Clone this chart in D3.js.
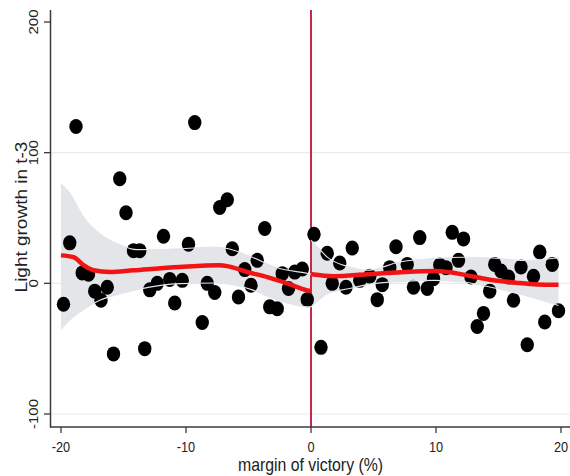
<!DOCTYPE html>
<html><head><meta charset="utf-8">
<script src="https://cdn.jsdelivr.net/npm/d3@7"></script>
<style>html,body{margin:0;padding:0;background:#fff;}svg{display:block;font-family:"Liberation Sans",Arial,Helvetica,sans-serif;}</style>
</head><body>
<svg id="c" width="570" height="476"></svg>
<script>
// scatter points: margin of victory (%) and light growth in t-3
const pointX = [-18.8,-15.3,-14.8,-11.8,-19.3,-14.2,-13.7,-18.3,-17.8,-17.3,-16.3,-16.8,-19.8,-12.9,-12.3,-11.3,-10.9,-15.8,-13.3,
  -9.3,-7.3,-6.7,-3.7,-9.8,-6.3,-4.3,-5.3,-10.3,-8.3,-7.7,-5.8,-4.8,-8.7,-3.3,-2.7,-2.3,-1.8,-1.3,-0.7,-0.3,
  0.24,0.8,1.3,2.3,3.3,1.7,2.8,3.9,4.7,5.7,5.3,6.8,6.3,7.7,8.7,8.2,9.3,9.8,10.3,10.8,11.3,12.2,11.8,12.8,
  13.8,13.3,14.3,14.7,15.2,15.8,16.2,16.8,17.8,17.3,18.3,19.3,18.7,19.8];
const pointY = [120,80,54,36,31,25,25,8,7,-6,-3,-13,-16,-5,0,3,-15,-54,-50,
  123,58,64,42,30,26.5,17.6,10.5,2.3,0,-7,-10.5,-1.5,-30,-18,-19.4,7.4,-4,8.6,11,-12.5,
  37.5,-49,23,15.6,27,0,-3,2.3,5.4,-1,-12.5,28,12,14.5,35,-3,-4,3.6,14,12,39,34,17.6,4.8,
  -23,-33,-6,14.5,9.4,4.8,-13,12.5,5.4,-47,24,14.5,-29.6,-21];

// local polynomial fit, left of cutoff
const fitLeftX = [-20,-19,-18.2,-17.4,-16.1,-14.2,-10.5,-7.4,-6.6,-5.1,-3.5,-1.9,-0.3,0];
const fitLeftY = [21.4,20,14,10,8.7,10,12.5,13.8,13,8.7,4.8,0,-5.4,-5.9];
// local polynomial fit, right of cutoff
const fitRightX = [0.05,1.8,4.5,7.2,9.9,11.1,12.5,14.2,16.4,18.1,19.8];
const fitRightY = [6.9,5.4,6.9,8.5,9.4,8.5,6.1,3.0,0.5,-0.8,-1.0];

// confidence band, left
const bandLeftX = [-20,-19.3,-18.2,-16.9,-15.5,-13.9,-10.5,-7.7,-6.6,-4.7,-2.9,-0.2,0];
const bandLeftHi = [76,69,50.7,38,30.4,25.8,26.5,27.8,26.5,20,12.5,7.4,7];
const bandLeftLo = [-35,-28,-20,-13,-8.5,-4.8,-0.2,0.3,-0.5,-5,-12,-18,-18];
// confidence band, right
const bandRightX = [0,0.6,1.3,3.1,4.5,7.1,9.9,12.2,14.3,17,19.8];
const bandRightHi = [33,27,20,12.5,10,16.3,19,20,19.6,17.6,19.6];
const bandRightLo = [-18,-13,-8,-4,-1,1.5,2.3,1,-2.8,-9,-17];

const xTicks = [-20,-10,0,10,20];
const yTicks = [-100,0,100,200];
const gridValues = [-100,0,100];
const xTitle = "margin of victory (%)";
const yTitle = "Light growth in t-3";

const svg = d3.select("#c");
const x = d3.scaleLinear().domain([-20,20]).range([61,561]);
const y = d3.scaleLinear().domain([-100,200]).range([414,22]);
const SX = 0.88; // horizontal squeeze of glyphs

// grid
svg.append("g").selectAll("line").data(gridValues).join("line")
  .attr("x1",51).attr("x2",570).attr("y1",d=>y(d)).attr("y2",d=>y(d))
  .attr("stroke","#e6edf0").attr("stroke-width",1.2);

// band fills
function bandData(xs,hi,lo){return xs.map((v,i)=>({x:v,hi:hi[i],lo:lo[i]}));}
const area = d3.area().x(d=>x(d.x)).y0(d=>y(d.lo)).y1(d=>y(d.hi)).curve(d3.curveMonotoneX);
const bands = [bandData(bandLeftX,bandLeftHi,bandLeftLo), bandData(bandRightX,bandRightHi,bandRightLo)];
svg.append("g").selectAll("path").data(bands).join("path")
  .attr("d",area).attr("fill","#e3e5e8").attr("stroke","none");

// cutoff line
svg.append("line").attr("x1",x(0)).attr("x2",x(0)).attr("y1",10).attr("y2",427)
  .attr("stroke","#c42a4c").attr("stroke-width",2);

// points
const pts = pointX.map((v,i)=>({x:v,y:pointY[i]}));
svg.append("g").selectAll("ellipse").data(pts).join("ellipse")
  .attr("cx",d=>x(d.x)).attr("cy",d=>y(d.y)).attr("rx",6.7).attr("ry",7.5).attr("fill","#000");

// band outlines over points
const lineHi = d3.line().x(d=>x(d.x)).y(d=>y(d.hi)).curve(d3.curveMonotoneX);
const lineLo = d3.line().x(d=>x(d.x)).y(d=>y(d.lo)).curve(d3.curveMonotoneX);
const og = svg.append("g").attr("fill","none").attr("stroke","#dfe6ec").attr("stroke-width",1.1);
bands.forEach(b=>{og.append("path").attr("d",lineHi(b));og.append("path").attr("d",lineLo(b));});

// fit lines
const fitLine = d3.line().x(d=>x(d[0])).y(d=>y(d[1])).curve(d3.curveMonotoneX);
const fits = [d3.zip(fitLeftX,fitLeftY), d3.zip(fitRightX,fitRightY)];
svg.append("g").selectAll("path").data(fits).join("path")
  .attr("d",fitLine).attr("fill","none").attr("stroke","#f21414").attr("stroke-width",4.5)
  .attr("stroke-linecap","butt");

// axes
const axisColor = "#3a3a3a";
svg.append("line").attr("x1",50.5).attr("x2",50.5).attr("y1",10).attr("y2",427.5).attr("stroke",axisColor).attr("stroke-width",1.5);
svg.append("line").attr("x1",50).attr("x2",570).attr("y1",427).attr("y2",427).attr("stroke",axisColor).attr("stroke-width",1.5);

svg.append("g").selectAll("line").data(xTicks).join("line")
  .attr("x1",d=>x(d)).attr("x2",d=>x(d)).attr("y1",427).attr("y2",433)
  .attr("stroke",axisColor).attr("stroke-width",1.3);
svg.append("g").selectAll("line").data(yTicks).join("line")
  .attr("x1",44).attr("x2",50).attr("y1",d=>y(d)).attr("y2",d=>y(d))
  .attr("stroke",axisColor).attr("stroke-width",1.3);

svg.append("g").selectAll("text").data(xTicks).join("text")
  .attr("transform",d=>`translate(${x(d)},452) scale(${SX},1)`)
  .attr("text-anchor","middle").attr("font-size",14.5).attr("fill","#222")
  .text(d=>d);
svg.append("g").selectAll("text").data(yTicks).join("text")
  .attr("transform",d=>`translate(37.5,${y(d)}) scale(${SX},1) rotate(-90)`)
  .attr("text-anchor","middle").attr("font-size",15).attr("fill","#222")
  .text(d=>d);

svg.append("text").attr("transform",`translate(310.5,471) scale(${SX},1)`)
  .attr("text-anchor","middle").attr("font-size",18).attr("fill","#222").text(xTitle);
svg.append("text").attr("transform",`translate(27,217) scale(${SX},1) rotate(-90)`)
  .attr("text-anchor","middle").attr("font-size",19).attr("fill","#222").text(yTitle);
</script>
</body></html>
